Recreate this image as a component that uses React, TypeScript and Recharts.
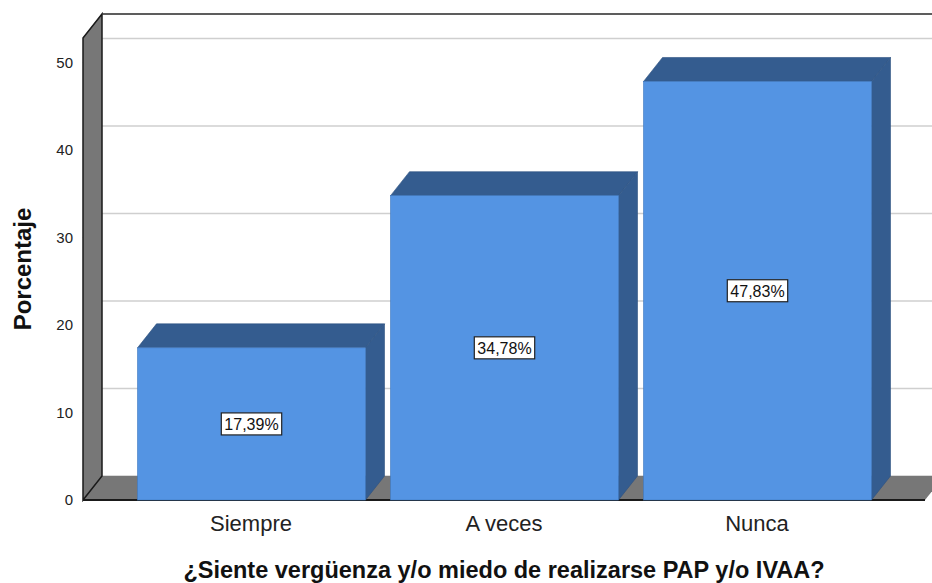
import React from 'react';
import * as R from 'recharts';
import { BarChart, Bar, XAxis, YAxis, CartesianGrid, LabelList } from 'recharts';

const categories = ['Siempre', 'A veces', 'Nunca'];
const percentages = [17.39, 34.78, 47.83];
const labels = ['17,39%', '34,78%', '47,83%'];
const yTicks = [0, 10, 20, 30, 40, 50];
const yTitle = 'Porcentaje';
const xTitle = '¿Siente vergüenza y/o miedo de realizarse PAP y/o IVAA?';

const data = categories.map((c, i) => ({ name: c, value: percentages[i], label: labels[i] }));

const DX = 19;
const DY = 24;
const FONT = '"Liberation Sans", Arial, sans-serif';
const FRONT = '#5494e3';
const SIDE = '#345c8f';
const WALL = '#777777';

const usePlot: any = (R as any).usePlotArea;

function Walls() {
  const area = usePlot ? usePlot() : null;
  if (!area) return null;
  const x0 = area.x;
  const x1 = area.x + area.width;
  const yT = area.y;
  const yB = area.y + area.height;
  return (
    <g>
      <polygon
        points={`${x0},${yB} ${x0 + DX},${yB - DY} ${x1 + DX},${yB - DY} ${x1},${yB}`}
        fill={WALL}
      />
      <polygon
        points={`${x0},${yT} ${x0 + DX},${yT - DY} ${x0 + DX},${yB - DY} ${x0},${yB}`}
        fill={WALL}
        stroke="#1a1a1a"
        strokeWidth={1.5}
      />
      <line x1={x0 + DX} y1={yT - DY} x2={x1 + DX} y2={yT - DY} stroke="#333" strokeWidth={1.5} />
      <line x1={x0} y1={yB} x2={x1} y2={yB} stroke="#1a1a1a" strokeWidth={2} />
    </g>
  );
}

const GridLine = (p: any) => {
  const { x1, x2, y1, index } = p;
  return (
    <g key={`g-${index}-${y1}`}>
      <line x1={x1} y1={y1} x2={x1 + DX} y2={y1 - DY} stroke="#bdbdbd" strokeWidth={1} />
      <line x1={x1 + DX} y1={y1 - DY} x2={x2 + DX} y2={y1 - DY} stroke="#cfcfcf" strokeWidth={1.5} />
    </g>
  );
};

const Bar3D = (p: any) => {
  const { x, y, width, height } = p;
  if (width == null || height == null) return null;
  const r = x + width;
  const b = y + height;
  return (
    <g>
      <polygon
        points={`${x},${y} ${x + DX},${y - DY} ${r + DX},${y - DY} ${r},${y}`}
        fill={SIDE}
        stroke="#2c5080"
        strokeWidth={0.6}
      />
      <polygon
        points={`${r},${y} ${r + DX},${y - DY} ${r + DX},${b - DY} ${r},${b}`}
        fill={SIDE}
        stroke="#2c5080"
        strokeWidth={0.6}
      />
      <rect x={x} y={y} width={width} height={height} fill={FRONT} stroke="#3f78c0" strokeWidth={0.6} />
    </g>
  );
};

const BoxLabel = (p: any) => {
  const { x, y, width, height, value } = p;
  const cx = x + width / 2;
  const cy = y + height / 2;
  const text = String(value);
  const w = text.length * 9.4 + 4;
  const h = 22;
  return (
    <g>
      <rect x={cx - w / 2} y={cy - h / 2} width={w} height={h} fill="#ffffff" stroke="#222" strokeWidth={1.2} />
      <text x={cx} y={cy + 6} textAnchor="middle" fontFamily={FONT} fontSize={16} fill="#111">
        {text}
      </text>
    </g>
  );
};

export default function App() {
  return (
    <div style={{ position: 'absolute', left: 0, top: 0, width: 932, height: 583, background: '#fff' }}>
      <BarChart
        width={932}
        height={583}
        data={data}
        margin={{ top: 38, right: 7, left: 0, bottom: 0 }}
        barSize={228}
      >
        <Walls />
        <CartesianGrid vertical={false} horizontal={GridLine as any} />
        <XAxis
          dataKey="name"
          height={83}
          padding={{ left: 41.5, right: 41.5 }}
          tickLine={false}
          axisLine={false}
          tickSize={0}
          tickMargin={15}
          tick={{ fontFamily: FONT, fontSize: 22, fill: '#222' }}
          label={{
            value: xTitle,
            position: 'insideBottom',
            offset: 5,
            style: { fontFamily: FONT, fontSize: 23.5, fontWeight: 'bold', fill: '#111' },
          }}
        />
        <YAxis
          width={83}
          domain={[0, 52.8]}
          ticks={yTicks}
          tickLine={false}
          axisLine={false}
          tickSize={0}
          tickMargin={10}
          tick={{ fontFamily: FONT, fontSize: 15, fill: '#222' }}
          label={{
            value: yTitle,
            angle: -90,
            position: 'insideLeft',
            offset: 22,
            style: { textAnchor: 'middle', fontFamily: FONT, fontSize: 24, fontWeight: 'bold', fill: '#111' },
          }}
        />
        <Bar dataKey="value" shape={Bar3D as any} isAnimationActive={false}>
          <LabelList dataKey="label" content={BoxLabel as any} />
        </Bar>
      </BarChart>
    </div>
  );
}
